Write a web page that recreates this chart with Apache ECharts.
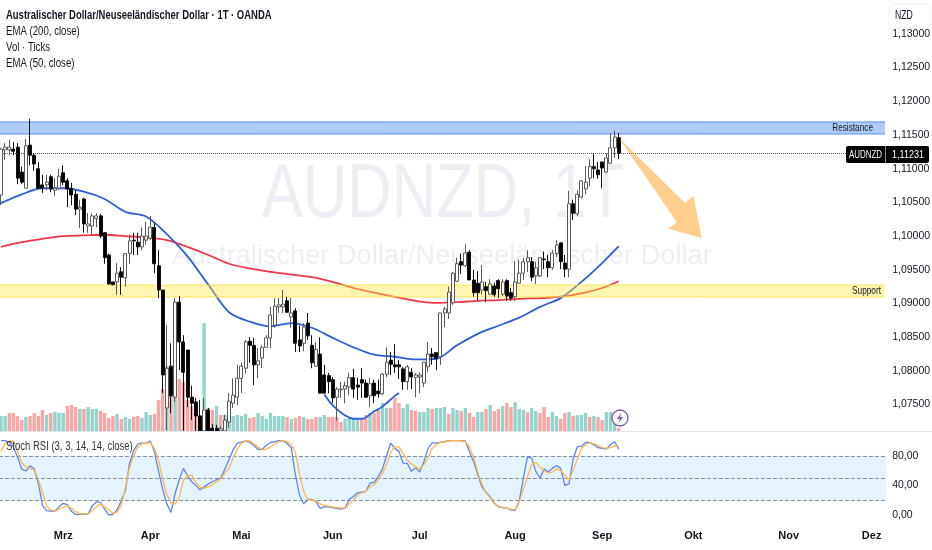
<!DOCTYPE html>
<html><head><meta charset="utf-8">
<style>html,body{margin:0;padding:0;background:#fff}#c{width:932px;height:550px}</style>
<script src="https://cdn.jsdelivr.net/npm/echarts@6/dist/echarts.min.js"></script>
</head><body><div id="c"></div>
<script>
const titleText = 'Australischer Dollar/Neuseeländischer Dollar · 1T · OANDA';
const legendLines = ['EMA (200, close)', 'Vol · Ticks', 'EMA (50, close)'];
const stochTitle = 'Stoch RSI (3, 3, 14, 14, close)';
const monthNames = ['Mrz','Apr','Mai','Jun','Jul','Aug','Sep','Okt','Nov','Dez'];
const monthBars  = [15,36,58,80,101,124,145,167,190,210];
const barSlots = 214;
const lastPrice = 1.11231;
const resistance = [1.11515, 1.11693];
const support = [1.09096, 1.09274];
const stochLevels = [80, 50, 20];
// open, close, low, high
const ohlc = [
[1.1061,1.1129,1.1046,1.1131],[1.1128,1.1132,1.1113,1.1138],[1.1128,1.1132,1.1120,1.1143],[1.1129,1.1126,1.1120,1.1140],[1.1132,1.1086,1.1077,1.1138],
[1.1095,1.1080,1.1077,1.1103],[1.1071,1.1134,1.1071,1.1144],[1.1135,1.1120,1.1105,1.1174],[1.1120,1.1107,1.1097,1.1123],[1.1100,1.1071,1.1070,1.1110],
[1.1076,1.1071,1.1064,1.1091],[1.1076,1.1080,1.1068,1.1091],[1.1088,1.1070,1.1065,1.1091],[1.1068,1.1071,1.1060,1.1086],[1.1071,1.1089,1.1068,1.1100],
[1.1094,1.1080,1.1076,1.1105],[1.1082,1.1070,1.1043,1.1086],[1.1071,1.1061,1.1046,1.1079],[1.1062,1.1040,1.1031,1.1068],[1.1040,1.1043,1.1012,1.1054],
[1.1055,1.1018,1.1005,1.1057],[1.1015,1.1018,1.1005,1.1034],[1.1015,1.1030,1.1002,1.1034],[1.1026,1.1030,1.1013,1.1034],[1.1030,1.1000,1.0997,1.1033],
[1.1005,1.0968,1.0959,1.1006],[1.0972,1.0929,1.0928,1.0974],[1.0932,1.0928,1.0927,1.0932],[1.0932,1.0945,1.0913,1.0960],[1.0947,1.0939,1.0913,1.0954],
[1.0938,1.0974,1.0925,1.0974],[1.0974,1.0993,1.0959,1.1002],[1.0994,1.0993,1.0972,1.1005],[1.0991,1.0984,1.0972,1.1005],[1.0984,1.1000,1.0979,1.1013],
[1.0994,1.1000,1.0987,1.1021],[1.0997,1.1013,1.0994,1.1030],[1.1013,1.0959,1.0945,1.1019],[1.0956,1.0920,1.0908,1.0979],[1.0920,1.0794,1.0767,1.0920],
[1.0745,1.0804,1.0712,1.0868],[1.0807,1.0763,1.0737,1.0841],[1.0761,1.0902,1.0754,1.0908],[1.0902,1.0843,1.0801,1.0911],[1.0843,1.0798,1.0711,1.0853],
[1.0831,1.0761,1.0746,1.0831],[1.0761,1.0752,1.0727,1.0778],[1.0754,1.0733,1.0711,1.0760],[1.0733,1.0711,1.0711,1.0757],[1.0711,1.0742,1.0711,1.0760],
[1.0742,1.0711,1.0711,1.0745],[1.0715,1.0711,1.0711,1.0721],[1.0715,1.0711,1.0711,1.0720],[1.0711,1.0714,1.0711,1.0718],[1.0711,1.0727,1.0711,1.0735],
[1.0724,1.0755,1.0716,1.0767],[1.0752,1.0764,1.0745,1.0789],[1.0761,1.0789,1.0749,1.0809],[1.0789,1.0807,1.0767,1.0812],[1.0804,1.0843,1.0796,1.0846],
[1.0844,1.0838,1.0812,1.0850],[1.0838,1.0809,1.0779,1.0849],[1.0809,1.0815,1.0789,1.0834],[1.0819,1.0835,1.0804,1.0838],[1.0835,1.0849,1.0834,1.0853],
[1.0849,1.0883,1.0834,1.0895],[1.0868,1.0896,1.0864,1.0908],[1.0895,1.0898,1.0886,1.0908],[1.0895,1.0899,1.0886,1.0920],[1.0904,1.0887,1.0886,1.0910],
[1.0880,1.0886,1.0864,1.0908],[1.0889,1.0841,1.0828,1.0893],[1.0846,1.0837,1.0828,1.0867],[1.0841,1.0865,1.0829,1.0871],[1.0871,1.0852,1.0846,1.0886],
[1.0838,1.0812,1.0804,1.0853],[1.0807,1.0832,1.0806,1.0843],[1.0825,1.0767,1.0767,1.0850],[1.0794,1.0767,1.0767,1.0809],[1.0793,1.0784,1.0767,1.0797],
[1.0787,1.0760,1.0752,1.0791],[1.0761,1.0773,1.0726,1.0776],[1.0772,1.0773,1.0760,1.0784],[1.0773,1.0778,1.0752,1.0784],[1.0776,1.0790,1.0764,1.0797],
[1.0790,1.0773,1.0760,1.0803],[1.0779,1.0776,1.0757,1.0790],[1.0787,1.0782,1.0760,1.0804],[1.0782,1.0761,1.0760,1.0787],[1.0763,1.0781,1.0746,1.0790],
[1.0782,1.0763,1.0752,1.0787],[1.0770,1.0766,1.0760,1.0787],[1.0766,1.0795,1.0764,1.0797],[1.0795,1.0813,1.0791,1.0835],[1.0816,1.0810,1.0794,1.0828],
[1.0809,1.0806,1.0797,1.0840],[1.0809,1.0806,1.0788,1.0816],[1.0803,1.0784,1.0772,1.0806],[1.0784,1.0806,1.0772,1.0809],[1.0798,1.0791,1.0773,1.0804],
[1.0790,1.0794,1.0761,1.0797],[1.0791,1.0794,1.0767,1.0798],[1.0782,1.0813,1.0776,1.0813],[1.0806,1.0825,1.0798,1.0843],[1.0825,1.0821,1.0809,1.0834],
[1.0827,1.0818,1.0801,1.0828],[1.0821,1.0886,1.0809,1.0886],[1.0886,1.0892,1.0865,1.0895],[1.0886,1.0917,1.0877,1.0925],[1.0901,1.0945,1.0898,1.0947],
[1.0933,1.0959,1.0932,1.0968],[1.0962,1.0957,1.0944,1.0974],[1.0956,1.0975,1.0954,1.0988],[1.0976,1.0935,1.0935,1.0979],[1.0935,1.0916,1.0910,1.0950],
[1.0930,1.0916,1.0905,1.0948],[1.0920,1.0932,1.0913,1.0957],[1.0925,1.0919,1.0902,1.0932],[1.0914,1.0929,1.0913,1.0936],[1.0926,1.0913,1.0910,1.0931],
[1.0934,1.0922,1.0908,1.0936],[1.0914,1.0932,1.0911,1.0936],[1.0934,1.0911,1.0904,1.0936],[1.0916,1.0908,1.0904,1.0923],[1.0910,1.0932,1.0904,1.0963],
[1.0930,1.0945,1.0930,1.0965],[1.0945,1.0962,1.0935,1.0968],[1.0962,1.0968,1.0947,1.0979],[1.0962,1.0939,1.0933,1.0969],[1.0941,1.0953,1.0929,1.0962],
[1.0941,1.0968,1.0939,1.0969],[1.0966,1.0965,1.0951,1.0977],[1.0962,1.0953,1.0939,1.0972],[1.0953,1.0975,1.0950,1.0979],[1.0974,1.0987,1.0969,1.0994],
[1.0990,1.0962,1.0951,1.0990],[1.0960,1.0951,1.0939,1.0972],[1.0951,1.1048,1.0939,1.1067],[1.1048,1.1034,1.1024,1.1054],[1.1033,1.1062,1.1030,1.1068],
[1.1058,1.1082,1.1056,1.1083],[1.1070,1.1080,1.1062,1.1104],[1.1086,1.1103,1.1074,1.1114],[1.1103,1.1100,1.1086,1.1123],[1.1098,1.1091,1.1085,1.1110],
[1.1110,1.1101,1.1071,1.1110],[1.1095,1.1116,1.1094,1.1123],[1.1108,1.1131,1.1108,1.1152],[1.1131,1.1147,1.1116,1.1156],[1.1146,1.11231,1.1114,1.1153]
];
const volumes = [15,15,18,18,15,11,14,15,18,15,21,16,18,19,18,18,25,26,24,22,22,24,22,22,20,18,13,15,17,12,14,12,14,15,13,19,16,17,31,42,65,35,36,52,49,31,25,20,16,108,23,21,25,16,16,13,15,16,15,17,13,14,18,15,12,18,15,15,15,14,12,13,15,14,12,12,14,14,16,14,14,14,9,12,13,13,13,13,16,18,18,21,28,23,23,33,28,23,27,21,20,19,19,23,22,23,23,24,17,23,21,20,23,18,14,19,19,22,26,20,22,25,28,24,29,22,21,19,23,20,18,24,14,19,15,12,18,19,15,16,16,18,14,15,14,11,19,19,19,3];
const volumeUp = [1,1,0,0,0,0,1,0,0,0,0,1,0,1,1,1,0,0,0,1,0,1,1,1,0,0,0,0,1,0,1,1,0,0,1,1,1,0,0,0,1,0,1,0,0,0,0,0,0,1,0,0,1,0,1,1,1,1,1,1,0,0,1,1,1,1,1,1,1,0,1,0,0,1,0,0,0,1,1,0,0,0,0,1,1,1,1,0,0,1,0,0,1,1,0,0,0,1,1,0,0,1,1,1,0,1,1,1,0,1,1,0,1,0,0,1,1,0,1,0,0,1,0,0,1,1,1,0,1,1,0,0,0,1,1,0,0,1,0,1,1,1,0,1,0,0,1,1,1,0];
const ema200 = [[0,1.0984],[5,1.0991],[10,1.0996],[15,1.1000],[20,1.1001],[25,1.1002],[30,1.1000],[35,1.0998],[40,1.0994],[45,1.0984],[50,1.0972],[55,1.0959],[60,1.0952],[65,1.0947],[70,1.0943],[75,1.0939],[80,1.0932],[85,1.0923],[90,1.0916],[95,1.0910],[100,1.0904],[105,1.0901],[110,1.0902],[115,1.0904],[120,1.0905],[125,1.0907],[130,1.0908],[135,1.0910],[140,1.0915],[145,1.0923],[149,1.0933]];
const ema50 = [[0,1.1049],[5,1.1062],[10,1.1071],[15,1.1071],[20,1.1066],[25,1.1055],[30,1.1036],[35,1.1029],[40,1.1003],[45,1.0970],[50,1.0928],[55,1.0887],[60,1.0873],[65,1.0866],[70,1.0871],[75,1.0864],[80,1.0849],[85,1.0835],[90,1.0824],[95,1.0821],[100,1.0817],[105,1.0818],[110,1.0838],[115,1.0855],[120,1.0867],[125,1.0879],[130,1.0895],[135,1.0908],[140,1.0932],[145,1.0960],[149,1.0985]];
const cupCurve = [[78,1.0765],[80,1.0749],[83,1.0734],[85,1.0729],[87,1.0729],[90,1.0740],[92,1.0747],[95,1.0763],[96,1.0767]];
const stochK = [100.5,100.5,98.5,92,78,62,59.5,66.5,62.5,43,13,6,5.4,5.4,11,15.8,14,5,0.5,1,1,1.4,12,17.6,17,8,0,1,7,19,33,70,87,96,97,97,100,86,59,35,15,3.5,29,48,63,53,45,40,34,38,42,45,48,50,62,75,88,97,98.5,100,98,94,88.5,89,94,98,99,100.5,100,97,91,55,27,15,21,21,18,9,11,11,10,9,8,9.5,21,25,30,31,32,43,44,52,62,80,97,90,86,70,69.8,59,64,58,72,90,97.5,97.5,98,99,100.5,100.5,100.5,100.5,100,85,72,55,38,31,24,16,11,10,9.5,7,6,19,50,79,77,59,50,62,58,63,67,63,40,42,75,92,93,98,98,95,91,90,89,95,99,89];
const stochD = [85,97,100,99.5,86,71,65,63,61,48,30,12,6.5,5.4,8,10.5,12.6,9,4.5,1.5,1.4,1.4,6,11,15,11,7,2.5,4,13,37,64,80,92,96,97,97.8,90,74,48,28,16,15,24,47,53,54,44,38,36,38,41,45,49,57,63,77,89,97,100,100.5,96,92,88,89,92,96,99,100.5,99,96,84,56,32,21,20,19,15,13,12,11,10,9.5,9,15,20,27,30,32,38,41,48,56,68,85,92,92,83,74,69,65,62,68,77,90,95,98.5,99,100,100.5,100.5,100,99,92,78,58,42,30,23,15,12,10,9,8,7,18,35,52,68,71,65,60,57,58,62,60,54,47,60,75,90,95,98,96,94,91,90,91,93,94];
const arrowShape = [[149.1,1.1146],[165.2,1.1049],[166.9,1.1060],[169.3,1.0997],[160.9,1.1011],[163,1.1021]];

const SANS = '"Liberation Sans", sans-serif';
const DARK = '#131722';
const categories = Array.from({length: barSlots}, (_, i) => {
  const m = monthBars.indexOf(i);
  return m >= 0 ? monthNames[m] : '';
});
const bandSeries = (vals, fill, edge, label, inset) => ({
  type: 'custom', coordinateSystem: 'cartesian2d', xAxisIndex: 0, yAxisIndex: 0, z: 4, silent: true,
  data: [[0, vals[0], vals[1]]], clip: false, animation: false,
  renderItem: (params, api) => {
    const right = 885;
    const lo = api.coord([0, api.value(1)])[1], hi = api.coord([0, api.value(2)])[1];
    return { type: 'group', children: [
      { type: 'rect', shape: { x: 0, y: hi, width: right, height: lo - hi }, style: { fill } },
      { type: 'line', shape: { x1: 0, y1: hi, x2: right, y2: hi }, style: { stroke: edge, lineWidth: 1 } },
      { type: 'line', shape: { x1: 0, y1: lo, x2: right, y2: lo }, style: { stroke: edge, lineWidth: 1 } },
      { type: 'text', x: right - inset, y: (hi + lo) / 2 - 0.5, scaleX: 0.75, style: { x: 0, y: 0, text: label, align: 'right', verticalAlign: 'middle', fill: DARK, font: '11px ' + SANS } }
    ] };
  }
});
const legendText = (x, y, text, font, fill, scaleX) => ({ type: 'text', z: 50, silent: true, x, y, scaleX,
  style: { x: 0, y: 0, text, verticalAlign: 'middle', fill, font } });

const option = {
  animation: false,
  backgroundColor: '#fff',
  grid: [
    { left: -1.07, width: 887.2, top: 0.2, height: 438.1, outerBoundsMode: 'none' },
    { left: -1.07, width: 887.2, top: 311, height: 120, outerBoundsMode: 'none' },
    { left: -1.07, width: 887.2, top: 426.2, height: 118.4, outerBoundsMode: 'none' }
  ],
  xAxis: [
    { type: 'category', gridIndex: 0, data: categories, show: false, boundaryGap: true },
    { type: 'category', gridIndex: 1, data: categories, show: false, boundaryGap: true },
    { type: 'category', gridIndex: 2, data: categories, boundaryGap: true, offset: -17,
      axisLine: { show: false }, axisTick: { show: false }, splitLine: { show: false },
      axisLabel: { interval: 0, hideOverlap: false, color: DARK, fontFamily: SANS, fontSize: 11, fontWeight: 'bold', margin: 3 } }
  ],
  yAxis: [
    { type: 'value', gridIndex: 0, position: 'right', min: 1.07, max: 1.135, interval: 0.005,
      axisLine: { show: false }, axisTick: { show: false }, splitLine: { show: false },
      axisLabel: { color: DARK, fontFamily: SANS, fontSize: 10.5, margin: 6,
        formatter: v => v < 1.0745 || v > 1.1345 ? '' : v.toFixed(5).replace('.', ',') } },
    { type: 'value', gridIndex: 1, min: 0, max: 120, show: false },
    { type: 'value', gridIndex: 2, position: 'right', min: -40, max: 120, interval: 40,
      axisLine: { show: false }, axisTick: { show: false }, splitLine: { show: false },
      axisLabel: { color: DARK, fontFamily: SANS, fontSize: 10.5, margin: 6,
        formatter: v => (v < 0 || v > 100) ? '' : v.toFixed(2).replace('.', ',') } }
  ],
  series: [
    { name: 'Vol', type: 'bar', xAxisIndex: 1, yAxisIndex: 1, z: 1, barWidth: 3.4, silent: true,
      data: volumes.map((v, i) => ({ value: v, itemStyle: { color: volumeUp[i] ? '#93d4cc' : '#faa6a6' } })) },
    { name: 'EMA200', type: 'line', xAxisIndex: 0, yAxisIndex: 0, z: 3, data: ema200, showSymbol: false, smooth: 0.3, silent: true,
      lineStyle: { color: '#f23645', width: 1.8 },
      markLine: { silent: true, symbol: 'none', z: 4, precision: 5, label: { show: false },
        lineStyle: { type: 'dotted', color: '#555', width: 1 }, data: [{ yAxis: lastPrice }] } },
    { name: 'EMA50', type: 'line', xAxisIndex: 0, yAxisIndex: 0, z: 3, data: ema50, showSymbol: false, smooth: 0.3, silent: true,
      lineStyle: { color: '#2c5fd8', width: 1.8 } },
    { name: 'Curve', type: 'line', xAxisIndex: 0, yAxisIndex: 0, z: 3, data: cupCurve, showSymbol: false, smooth: 0.4, silent: true,
      lineStyle: { color: '#2c5fd8', width: 1.8 } },
    bandSeries(resistance, 'rgba(66,133,244,0.42)', '#5b8def', 'Resistance', 12),
    bandSeries(support, 'rgba(255,235,59,0.40)', 'rgba(253,224,71,0.9)', 'Support', 4),
    { name: 'AUDNZD', type: 'candlestick', xAxisIndex: 0, yAxisIndex: 0, z: 10, barWidth: 3.5, silent: true,
      data: ohlc,
      itemStyle: { color: '#ffffff', color0: '#000000', borderColor: '#5a5a5a', borderColor0: '#111111', borderWidth: 1 } },
    { name: 'Arrow', type: 'custom', coordinateSystem: 'cartesian2d', xAxisIndex: 0, yAxisIndex: 0, z: 19, silent: true, clip: false,
      data: arrowShape,
      renderItem: (params, api) => {
        if (params.dataIndex !== 0) return null;
        return { type: 'polygon', shape: { points: arrowShape.map(p => api.coord(p)) }, style: { fill: 'rgba(255,171,64,0.6)' } };
      } },
    { name: 'StochK', type: 'line', xAxisIndex: 2, yAxisIndex: 2, z: 5, data: stochK, showSymbol: false, silent: true,
      lineStyle: { color: '#5b86ee', width: 1.3 },
      markArea: { silent: true, z: 1, itemStyle: { color: '#e5f3fd' }, data: [[{ yAxis: stochLevels[2] }, { yAxis: stochLevels[0] }]] },
      markLine: { silent: true, symbol: 'none', z: 2, label: { show: false }, lineStyle: { type: 'dashed', color: '#8a8e99', width: 1 },
        data: stochLevels.map(v => ({ yAxis: v })) } },
    { name: 'StochD', type: 'line', xAxisIndex: 2, yAxisIndex: 2, z: 6, data: stochD, showSymbol: false, silent: true,
      lineStyle: { color: '#ffb74d', width: 1.3 } }
  ],
  graphic: { elements: [
    { type: 'text', z: 0, silent: true, x: 443, y: 196, scaleX: 0.81, style: { x: 0, y: 0, text: 'AUDNZD, 1T', align: 'center', verticalAlign: 'middle', fill: '#eeeff4', font: '76px ' + SANS } },
    { type: 'text', z: 0, silent: true, style: { x: 442, y: 257, text: 'Australischer Dollar/Neuseeländischer Dollar', align: 'center', verticalAlign: 'middle', fill: '#eeeff4', font: '27.2px ' + SANS } },
    legendText(6, 16, titleText, 'bold 12.5px ' + SANS, DARK, 0.757),
    legendText(6, 32, legendLines[0], '12.5px ' + SANS, DARK, 0.77),
    legendText(6, 48, legendLines[1], '12.5px ' + SANS, DARK, 0.77),
    legendText(6, 64, legendLines[2], '12.5px ' + SANS, DARK, 0.77),
    legendText(6, 447, stochTitle, '12.5px ' + SANS, '#333', 0.76),
    { type: 'line', z: 40, silent: true, shape: { x1: 0, y1: 431.5, x2: 932, y2: 431.5 }, style: { stroke: '#e0e3eb', lineWidth: 1 } },
    { type: 'rect', z: 60, silent: true, shape: { x: 889, y: 4, width: 41, height: 24, r: 5 }, style: { fill: '#fff', stroke: '#eef0f3', lineWidth: 1 } },
    { type: 'text', z: 61, silent: true, x: 895, y: 16, scaleX: 0.72, style: { x: 0, y: 0, text: 'NZD', verticalAlign: 'middle', fill: DARK, font: '12px ' + SANS } },
    { type: 'rect', z: 60, silent: true, shape: { x: 846, y: 146, width: 83, height: 17, r: 2 }, style: { fill: '#000' } },
    { type: 'line', z: 61, silent: true, shape: { x1: 885.5, y1: 146, x2: 885.5, y2: 163 }, style: { stroke: '#888', lineWidth: 1 } },
    { type: 'text', z: 61, silent: true, x: 865.5, y: 154.5, scaleX: 0.72, style: { x: 0, y: 0, text: 'AUDNZD', align: 'center', verticalAlign: 'middle', fill: '#fff', font: '11px ' + SANS } },
    { type: 'text', z: 61, silent: true, x: 908, y: 154.5, scaleX: 0.82, style: { x: 0, y: 0, text: lastPrice.toFixed(5).replace('.', ','), align: 'center', verticalAlign: 'middle', fill: '#fff', font: '11px ' + SANS } },
    { type: 'circle', z: 60, silent: true, shape: { cx: 620, cy: 418, r: 8 }, style: { fill: '#fff', stroke: '#7e57a8', lineWidth: 1.3 } },
    { type: 'polygon', z: 61, silent: true, shape: { points: [[621.5,412.5],[617,419],[620,419],[618.5,423.5],[623,417],[620.2,417]] }, style: { fill: '#7e57a8' } }
  ] }
};
echarts.init(document.getElementById('c'), null, { renderer: 'canvas' }).setOption(option);
</script></body></html>
